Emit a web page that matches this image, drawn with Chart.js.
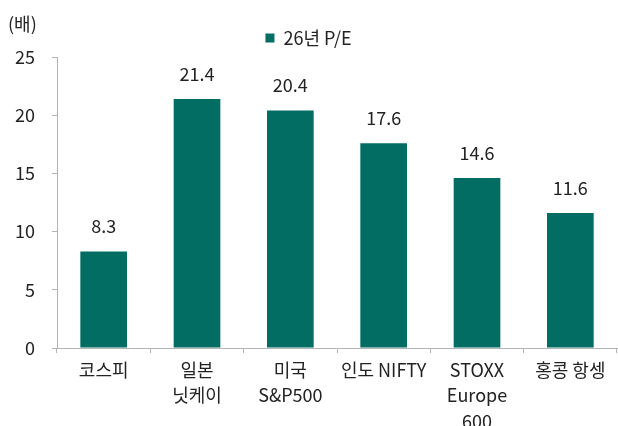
<!DOCTYPE html>
<html>
<head>
<meta charset="utf-8">
<script src="https://cdn.jsdelivr.net/npm/chart.js@4"></script>
<style>
  body { margin: 0; background: #fff; }
  #wrap { width: 618px; height: 426px; }
</style>
</head>
<body>
<div id="wrap"><canvas id="chart"></canvas></div>
<script>
// 26년 P/E by market
const categories = ['코스피', ['일본', '닛케이'], ['미국', 'S&P500'], '인도 NIFTY', ['STOXX', 'Europe', '600'], '홍콩 항셍'];
const peValues = [8.3, 21.4, 20.4, 17.6, 14.6, 11.6];
const seriesName = '26년 P/E';
const unitLabel = '(배)';

const FONT = '"Noto Sans CJK KR", "Noto Sans", sans-serif';
const TEXT = '#222222';
const AXIS = '#b4b4b4';
const BAR = '#016d63';

Chart.defaults.font.family = FONT;
Chart.defaults.color = TEXT;

// value labels over the bars + unit text in the corner
const labelPlugin = {
  id: 'barLabels',
  afterDatasetsDraw(chart) {
    const ctx = chart.ctx;
    const meta = chart.getDatasetMeta(0);
    ctx.save();
    ctx.font = '18px ' + FONT;
    ctx.fillStyle = TEXT;
    ctx.textAlign = 'center';
    ctx.textBaseline = 'middle';
    meta.data.forEach((bar, i) => {
      ctx.fillText(peValues[i].toFixed(1), bar.x, bar.y - 25);
    });
    ctx.textAlign = 'left';
    ctx.fillText(unitLabel, 8, 24);
    ctx.restore();
  }
};

new Chart(document.getElementById('chart'), {
  type: 'bar',
  data: {
    labels: categories,
    datasets: [{
      label: seriesName,
      data: peValues,
      backgroundColor: BAR,
      borderWidth: 0,
      categoryPercentage: 1,
      barPercentage: 0.5
    }]
  },
  options: {
    responsive: true,
    maintainAspectRatio: false,
    animation: false,
    layout: { padding: { top: 19, left: 0, right: 1, bottom: 0 } },
    plugins: {
      legend: {
        position: 'top',
        labels: {
          boxWidth: 9,
          boxHeight: 9,
          padding: 10,
          color: TEXT,
          font: { size: 18, lineHeight: 0.89 }
        }
      },
      tooltip: { enabled: false }
    },
    scales: {
      x: {
        grid: { drawOnChartArea: false, drawTicks: true, tickLength: 5, color: AXIS },
        border: { color: AXIS, width: 1 },
        ticks: { font: { size: 18, lineHeight: 1.42 }, padding: 4, color: TEXT, maxRotation: 0 },
        afterFit(s) { s.height = 78; }
      },
      y: {
        min: 0,
        max: 25,
        grid: { drawOnChartArea: false, drawTicks: true, tickLength: 5, color: AXIS },
        border: { color: AXIS, width: 1 },
        ticks: { stepSize: 5, font: { size: 18 }, padding: 17, color: TEXT },
        afterFit(s) { s.width = 57; }
      }
    }
  },
  plugins: [labelPlugin]
});
</script>
</body>
</html>
